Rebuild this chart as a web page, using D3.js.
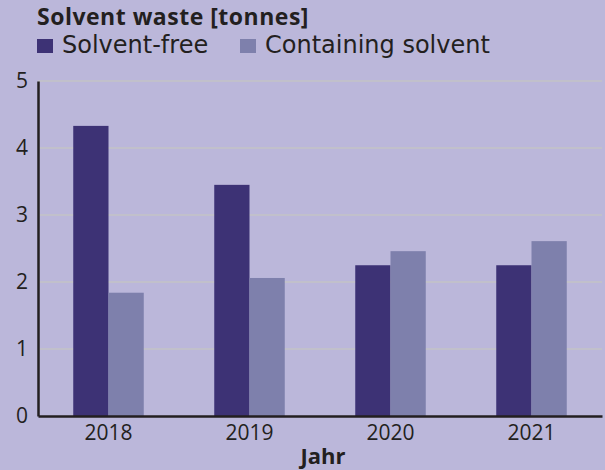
<!DOCTYPE html>
<html>
<head>
<meta charset="utf-8">
<script src="https://cdn.jsdelivr.net/npm/d3@7"></script>
<style>
  body { margin: 0; background: #bbb7da; }
  svg { display: block; }
</style>
</head>
<body>
<svg width="605" height="470"></svg>
<script>
var years = ["2018", "2019", "2020", "2021"];
var seriesNames = ["Solvent-free", "Containing solvent"];
var solventFree = [4.33, 3.45, 2.25, 2.25];
var containingSolvent = [1.84, 2.06, 2.46, 2.61];
var yTicks = [0, 1, 2, 3, 4, 5];
var colors = ["#3d3275", "#7e80ac"];

var svg = d3.select("svg"),
    plotLeft = 38, plotRight = 602, plotTop = 81, plotBottom = 416;

var rows = years.map(function(yr, i) {
  return { year: yr, values: [solventFree[i], containingSolvent[i]] };
});

var x = d3.scaleBand().domain(years).range([plotLeft, plotRight])
    .paddingInner(0.5).paddingOuter(0.25);
var xs = d3.scaleBand().domain([0, 1]).range([0, x.bandwidth()]);
var y = d3.scaleLinear().domain([0, 5]).range([plotBottom, plotTop]);

// grid
svg.append("g").selectAll("line")
    .data(yTicks.slice(1))
  .enter().append("line")
    .attr("x1", plotLeft).attr("x2", plotRight)
    .attr("y1", function(d) { return y(d); })
    .attr("y2", function(d) { return y(d); })
    .attr("stroke", "#c3c3c6")
    .attr("stroke-width", 1.5);

// bars
var group = svg.append("g").selectAll("g")
    .data(rows)
  .enter().append("g")
    .attr("transform", function(d) { return "translate(" + x(d.year) + ",0)"; });

group.selectAll("rect")
    .data(function(d) { return d.values; })
  .enter().append("rect")
    .attr("x", function(d, i) { return xs(i); })
    .attr("width", xs.bandwidth())
    .attr("y", function(d) { return y(d); })
    .attr("height", function(d) { return plotBottom - y(d); })
    .attr("fill", function(d, i) { return colors[i]; });

// axes
var yAxis = svg.append("g")
    .attr("transform", "translate(" + plotLeft + ",0)")
    .call(d3.axisLeft(y).tickValues(yTicks).tickFormat(d3.format("d")).tickSize(0).tickPadding(10));
yAxis.select(".domain").attr("stroke", "#231f20").attr("stroke-width", 2.5);
yAxis.selectAll("text")
    .attr("fill", "#231f20")
    .style("font-family", "Open Sans")
    .style("font-size", "21px");

var xAxis = svg.append("g")
    .attr("transform", "translate(0," + plotBottom + ")")
    .call(d3.axisBottom(x).tickSize(0).tickPadding(9));
xAxis.select(".domain").attr("stroke", "#231f20").attr("stroke-width", 2.5);
xAxis.selectAll("text")
    .attr("fill", "#231f20")
    .style("font-family", "Open Sans")
    .style("font-size", "21px");

svg.append("text")
    .attr("x", 323).attr("y", 464)
    .attr("text-anchor", "middle")
    .attr("fill", "#231f20")
    .style("font-family", "Open Sans")
    .style("font-weight", "bold")
    .style("font-size", "22px")
    .text("Jahr");

// title + legend
svg.append("text")
    .attr("x", 37).attr("y", 25)
    .attr("fill", "#231f20")
    .style("font-family", "Open Sans")
    .style("font-weight", "bold")
    .style("font-size", "23px")
    .style("letter-spacing", "0.5px")
    .text("Solvent waste [tonnes]");

var legendX = [37, 240];
var legend = svg.append("g").selectAll("g")
    .data(seriesNames)
  .enter().append("g")
    .attr("transform", function(d, i) { return "translate(" + legendX[i] + ",39)"; });

legend.append("rect")
    .attr("width", 16).attr("height", 14)
    .attr("fill", function(d, i) { return colors[i]; });

legend.append("text")
    .attr("x", 25).attr("y", 14)
    .attr("fill", "#231f20")
    .style("font-family", "DejaVu Sans")
    .style("font-size", "24px")
    .text(function(d) { return d; });
</script>
</body>
</html>
